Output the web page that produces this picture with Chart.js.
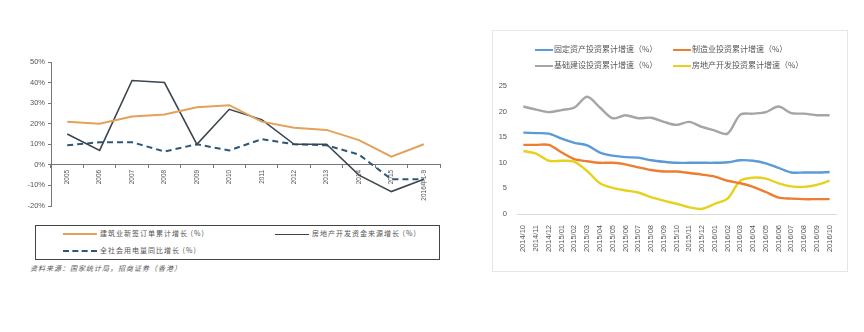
<!DOCTYPE html>
<html>
<head>
<meta charset="utf-8">
<script src="https://cdn.jsdelivr.net/npm/chart.js@4.4.1/dist/chart.umd.min.js"></script>
<style>
  body { margin: 0; background: #fff; width: 864px; height: 332px; position: relative; overflow: hidden;
         font-family: "Noto Sans CJK SC", "DejaVu Sans", sans-serif; color: #444; }
  #leftWrap { position: absolute; left: 0; top: 0; width: 450px; height: 215px; }
  #rightWrap { position: absolute; left: 492px; top: 30px; width: 356px; height: 242px;
               border: 1px solid #e6e6e6; box-sizing: border-box; }
  .lg { position: absolute; font-size: 7px; white-space: nowrap; color: #555; letter-spacing: 1px; }
  .sw { display: inline-block; width: 34px; height: 0; vertical-align: middle; margin-right: 3px; }
  .rl { position: absolute; font-size: 8px; white-space: nowrap; color: #555; }
  .rsw { display: inline-block; width: 18px; height: 0; border-top: 2px solid; vertical-align: middle; margin-right: 1px; }
</style>
</head>
<body>
<div id="leftWrap"><canvas id="leftChart"></canvas></div>

<div style="position:absolute;left:35px;top:225px;width:405px;height:35px;border:1.5px solid #444;box-sizing:border-box;"></div>
<div class="lg" style="left:63px;top:228px;"><span class="sw" style="border-top:2px solid #e3a15a;"></span>建筑业新签订单累计增长 (%)</div>
<div class="lg" style="left:275px;top:228px;"><span class="sw" style="border-top:1.5px solid #3b4650;"></span>房地产开发资金来源增长 (%)</div>
<div class="lg" style="left:63px;top:245px;"><span class="sw" style="border-top:2px dashed #2f5878;"></span>全社会用电量同比增长 (%)</div>
<div class="lg" style="left:30px;top:263px;font-style:italic;">资料来源：国家统计局，招商证券（香港）</div>

<div id="rightWrap"><canvas id="rightChart"></canvas></div>
<div class="rl" style="left:535px;top:43px;"><span class="rsw" style="border-color:#5b9bd5;"></span>固定资产投资累计增速（%）</div>
<div class="rl" style="left:673px;top:43px;"><span class="rsw" style="border-color:#ed7d31;"></span>制造业投资累计增速（%）</div>
<div class="rl" style="left:535px;top:59px;"><span class="rsw" style="border-color:#a5a5a5;"></span>基础建设投资累计增速（%）</div>
<div class="rl" style="left:673px;top:59px;"><span class="rsw" style="border-color:#e6d21e;"></span>房地产开发投资累计增速（%）</div>

<script>
// left chart data
const years = ["2005", "2006", "2007", "2008", "2009", "2010", "2011", "2012", "2013", "2014", "2015", "2016年1-9"];
const newOrders = [21, 20, 23.5, 24.5, 28, 29, 21, 18, 17, 12, 4, 10];
const funding = [15, 7, 41, 40, 10, 27, 22, 10, 10, -5, -13, -7];
const power = [9.5, 11, 11, 6.5, 10, 7, 12.5, 10, 9.5, 5, -7, -7];

// right chart data
const months = ["2014/10", "2014/11", "2014/12", "2015/01", "2015/02", "2015/03", "2015/04", "2015/05",
  "2015/06", "2015/07", "2015/08", "2015/09", "2015/10", "2015/11", "2015/12", "2016/01", "2016/02",
  "2016/03", "2016/04", "2016/05", "2016/06", "2016/07", "2016/08", "2016/09", "2016/10"];
const fixedAsset = [15.9, 15.8, 15.7, 14.7, 13.9, 13.4, 12.0, 11.4, 11.1, 11.0, 10.5, 10.2, 10.0,
  10.0, 10.0, 10.0, 10.1, 10.5, 10.4, 9.9, 9.0, 8.1, 8.1, 8.1, 8.2];
const manufacturing = [13.5, 13.5, 13.5, 12.0, 10.7, 10.3, 10.0, 10.0, 9.7, 9.1, 8.6, 8.3, 8.3,
  8.0, 7.7, 7.3, 6.5, 6.0, 5.3, 4.3, 3.2, 3.0, 2.9, 2.9, 2.9];
const infrastructure = [21.0, 20.4, 19.9, 20.3, 20.8, 22.9, 20.8, 18.7, 19.3, 18.7, 18.8, 18.0, 17.4,
  18.0, 17.0, 16.3, 15.7, 19.4, 19.6, 19.9, 21.0, 19.7, 19.6, 19.3, 19.3];
const realEstate = [12.3, 11.8, 10.4, 10.4, 10.2, 8.4, 6.0, 5.1, 4.6, 4.2, 3.3, 2.6, 2.0,
  1.3, 1.0, 2.0, 3.0, 6.5, 7.1, 6.9, 6.0, 5.4, 5.3, 5.7, 6.5];

new Chart(document.getElementById("leftChart").getContext("2d"), {
  type: "line",
  data: {
    labels: years,
    datasets: [
      { label: "建筑业新签订单累计增长 (%)", data: newOrders, borderColor: "#e3a15a", borderWidth: 2 },
      { label: "房地产开发资金来源增长 (%)", data: funding, borderColor: "#3b4650", borderWidth: 1.6 },
      { label: "全社会用电量同比增长 (%)", data: power, borderColor: "#2f5878", borderWidth: 2, borderDash: [6, 4] },
    ],
  },
  options: {
    responsive: true,
    maintainAspectRatio: false,
    animation: false,
    layout: { padding: { left: 10, top: 62, right: 10, bottom: 9 } },
    elements: { point: { radius: 0 }, line: { tension: 0 } },
    plugins: { legend: { display: false }, tooltip: { enabled: false } },
    scales: {
      x: {
        offset: true,
        position: { y: 0 },
        afterFit: (s) => { s.height = 0; },
        border: { color: "#777", width: 1 },
        grid: { drawOnChartArea: false, tickLength: 3, color: "#777", offset: true },
        ticks: { minRotation: 90, maxRotation: 90, font: { size: 6.5 }, color: "#555", padding: 2 },
      },
      y: {
        min: -20,
        max: 50,
        afterFit: (s) => { s.width = 41; },
        border: { color: "#777", width: 1 },
        grid: { drawOnChartArea: false, tickLength: 3, color: "#777" },
        ticks: { stepSize: 10, font: { size: 7.5 }, color: "#555", padding: 3, callback: (v) => v + "%" },
      },
    },
  },
});

new Chart(document.getElementById("rightChart").getContext("2d"), {
  type: "line",
  data: {
    labels: months,
    datasets: [
      { label: "固定资产投资累计增速（%）", data: fixedAsset, borderColor: "#5b9bd5" },
      { label: "制造业投资累计增速（%）", data: manufacturing, borderColor: "#ed7d31" },
      { label: "基础建设投资累计增速（%）", data: infrastructure, borderColor: "#a5a5a5" },
      { label: "房地产开发投资累计增速（%）", data: realEstate, borderColor: "#e6d21e" },
    ],
  },
  options: {
    responsive: true,
    maintainAspectRatio: false,
    animation: false,
    layout: { padding: { left: 4, top: 55, right: 11, bottom: 7 } },
    elements: { point: { radius: 0 }, line: { tension: 0.3, borderWidth: 2.4 } },
    plugins: { legend: { display: false }, tooltip: { enabled: false } },
    scales: {
      x: {
        offset: true,
        afterFit: (s) => { s.height = 50; },
        border: { color: "#d9d9d9" },
        grid: { display: false },
        ticks: { minRotation: 90, maxRotation: 90, autoSkip: false, font: { size: 7.5 }, color: "#555", padding: 3 },
      },
      y: {
        min: 0,
        max: 25,
        afterFit: (s) => { s.width = 20; },
        border: { display: false },
        grid: { display: false, drawTicks: false },
        ticks: { stepSize: 5, font: { size: 7.5 }, color: "#555", padding: 10 },
      },
    },
  },
});
</script>
</body>
</html>
